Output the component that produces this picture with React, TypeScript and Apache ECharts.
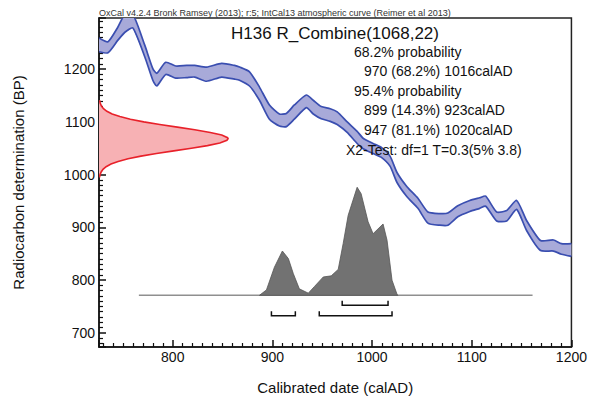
import React, { useEffect, useRef } from "react";
import * as echarts from "echarts";

// ---- calibration curve (IntCal13), calendar years AD vs BP ----
const curveYears = [726, 735, 745, 752, 760, 772, 780, 784, 793, 803, 814, 822, 834, 849, 862, 867, 877, 887, 897, 907, 914, 922, 934, 941, 949, 958, 965, 975, 985, 991, 1001, 1009, 1018, 1025, 1035, 1046, 1056, 1068, 1076, 1086, 1098, 1108, 1114, 1125, 1135, 1145, 1155, 1169, 1182, 1190, 1200];
const curveUpper = [1259, 1252, 1280, 1304, 1304, 1245, 1201, 1192, 1213, 1206, 1207, 1207, 1204, 1211, 1207, 1204, 1195, 1166, 1132, 1115, 1116, 1132, 1151, 1141, 1129, 1125, 1119, 1100, 1082, 1069, 1059, 1052, 1035, 1004, 977, 955, 929, 926, 927, 941, 951, 956, 959, 929, 932, 951, 913, 875, 876, 869, 869];
const curveLower = [1233, 1231, 1255, 1270, 1278, 1223, 1179, 1168, 1190, 1183, 1184, 1185, 1177, 1185, 1181, 1179, 1168, 1141, 1105, 1092, 1091, 1105, 1127, 1115, 1106, 1101, 1095, 1080, 1059, 1049, 1040, 1033, 1016, 985, 958, 936, 908, 904, 904, 920, 930, 936, 940, 912, 912, 934, 894, 856, 855, 849, 845];

// ---- radiocarbon measurement likelihood (BP vs relative density) ----
const likeBP = [1141, 1135, 1130, 1125, 1120, 1115, 1110, 1105, 1100, 1095, 1090, 1085, 1080, 1075, 1070, 1068, 1065, 1060, 1055, 1050, 1045, 1040, 1035, 1030, 1025, 1020, 1015, 1010, 1005, 1000, 995];
const likeDensity = [0.004, 0.01, 0.019, 0.035, 0.061, 0.102, 0.162, 0.243, 0.347, 0.471, 0.607, 0.742, 0.862, 0.951, 0.996, 1, 0.991, 0.936, 0.84, 0.716, 0.579, 0.445, 0.325, 0.225, 0.148, 0.093, 0.055, 0.031, 0.017, 0.008, 0.004];

// ---- calibrated (posterior) distribution, calAD vs relative probability ----
const postYears = [887, 894, 902, 910, 916, 921, 927, 936, 942, 951, 959, 966, 971, 976, 985, 989, 996, 1001, 1011, 1015, 1020, 1025, 1026];
const postProb = [0, 0.05, 0.26, 0.41, 0.34, 0.2, 0.06, 0.02, 0.08, 0.17, 0.18, 0.24, 0.48, 0.74, 1.0, 0.94, 0.68, 0.57, 0.66, 0.51, 0.14, 0.01, 0];
const postSpan = [766, 1161];

// ---- probability ranges ----
const range68 = [[970, 1016]];
const range95 = [[899, 923], [947, 1020]];

// ---- axes ----
const xRange = [726, 1200];
const yRange = [673, 1297];

// ---- texts ----
const headerText = "OxCal v4.2.4 Bronk Ramsey (2013); r:5; IntCal13 atmospheric curve (Reimer et al 2013)";
const sampleTitle = "H136 R_Combine(1068,22)";
const summaryLines = [
  "68.2% probability",
  "970 (68.2%) 1016calAD",
  "95.4% probability",
  "899 (14.3%) 923calAD",
  "947 (81.1%) 1020calAD",
  "X2-Test: df=1 T=0.3(5% 3.8)",
];
const xAxisTitle = "Calibrated date (calAD)";
const yAxisTitle = "Radiocarbon determination (BP)";

const FONT = '"Liberation Sans", Arial, Helvetica, sans-serif';
const POST_BASE = 771; // BP level of the posterior baseline
const POST_SCALE = 205; // BP height of the posterior peak

export default function App() {
  const ref = useRef<HTMLDivElement>(null);

  useEffect(() => {
    if (!ref.current) return;
    const chart = echarts.init(ref.current, undefined, { renderer: "svg" });

    const axisLineStyle = { color: "#111", width: 1.5 };
    const majorTick = { show: true, inside: true, length: 7, lineStyle: { color: "#111", width: 1.5 } };
    const minorTick = { show: true, splitNumber: 10, length: 4, lineStyle: { color: "#111", width: 1.2 } };

    const summaryX = [354, 364, 354, 364, 364, 346];
    const summaryY = [51.5, 71, 90.5, 110, 129.5, 150];

    const option: any = {
      animation: false,
      backgroundColor: "#fff",
      grid: {
        left: 99,
        top: 18,
        width: 473,
        height: 329,
        show: true,
        borderColor: "#222",
        borderWidth: 1.5,
        backgroundColor: "transparent",
      },
      xAxis: [
        {
          type: "value",
          min: xRange[0],
          max: xRange[1],
          position: "bottom",
          axisLine: { show: true, onZero: false, lineStyle: axisLineStyle },
          axisTick: majorTick,
          minorTick: minorTick,
          splitLine: { show: false },
          minorSplitLine: { show: false },
          axisLabel: {
            showMinLabel: false,
            fontSize: 14,
            color: "#111",
            fontFamily: FONT,
            margin: 3,
            formatter: (v: number) => String(v),
          },
          name: xAxisTitle,
          nameLocation: "middle",
          nameGap: 33,
          nameTextStyle: { fontSize: 15, color: "#111", fontFamily: FONT },
        },
        { type: "value", min: 0, max: 3.66, show: false },
      ],
      yAxis: [
        {
          type: "value",
          min: yRange[0],
          max: yRange[1],
          axisLine: { show: true, onZero: false, lineStyle: axisLineStyle },
          axisTick: majorTick,
          minorTick: minorTick,
          splitLine: { show: false },
          minorSplitLine: { show: false },
          axisLabel: {
            showMinLabel: false,
            showMaxLabel: false,
            fontSize: 14,
            color: "#111",
            fontFamily: FONT,
            margin: 4,
            formatter: (v: number) => String(v),
          },
          name: yAxisTitle,
          nameLocation: "middle",
          nameGap: 73,
          nameTextStyle: { fontSize: 15, color: "#111", fontFamily: FONT },
        },
      ],
      series: [
        {
          type: "custom",
          name: "curve",
          clip: true,
          xAxisIndex: 0,
          yAxisIndex: 0,
          data: [[curveYears[0], curveLower[0]]],
          renderItem: (params: any, api: any) => {
            if (params.dataIndex !== 0) return null;
            const up = curveYears.map((yr, i) => api.coord([yr, curveUpper[i]]));
            const lo = curveYears.map((yr, i) => api.coord([yr, curveLower[i]]));
            return {
              type: "group",
              children: [
                { type: "polygon", shape: { points: up.concat(lo.slice().reverse()) }, style: { fill: "#a8aad9", stroke: null } },
                { type: "polyline", shape: { points: up, smooth: 0.2 }, style: { stroke: "#3a4eb0", lineWidth: 1.7, fill: null } },
                { type: "polyline", shape: { points: lo, smooth: 0.2 }, style: { stroke: "#3a4eb0", lineWidth: 1.7, fill: null } },
              ],
            };
          },
        },
        {
          type: "custom",
          name: "likelihood",
          clip: true,
          xAxisIndex: 1,
          yAxisIndex: 0,
          data: [[0, likeBP[0]]],
          renderItem: (params: any, api: any) => {
            if (params.dataIndex !== 0) return null;
            const pts = likeBP.map((bp, i) => api.coord([likeDensity[i], bp]));
            const first = api.coord([0, likeBP[0]]);
            const last = api.coord([0, likeBP[likeBP.length - 1]]);
            return {
              type: "group",
              children: [
                { type: "polygon", shape: { points: [first, ...pts, last] }, style: { fill: "#f7b1b4", stroke: null } },
                { type: "polyline", shape: { points: pts }, style: { stroke: "#e8212a", lineWidth: 1.6, fill: null } },
              ],
            };
          },
        },
        {
          type: "custom",
          name: "posterior",
          clip: true,
          xAxisIndex: 0,
          yAxisIndex: 0,
          data: [[postYears[0], POST_BASE]],
          renderItem: (params: any, api: any) => {
            if (params.dataIndex !== 0) return null;
            const pts = postYears.map((yr, i) => api.coord([yr, POST_BASE + postProb[i] * POST_SCALE]));
            const b0 = api.coord([postSpan[0], POST_BASE]);
            const b1 = api.coord([postSpan[1], POST_BASE]);
            const y0 = b0[1];
            const children: any[] = [
              { type: "line", shape: { x1: b0[0], y1: y0, x2: b1[0], y2: y0 }, style: { stroke: "#8f8f8f", lineWidth: 1.5 } },
              { type: "polygon", shape: { points: pts }, style: { fill: "#727272", stroke: "#555", lineWidth: 0.8 } },
            ];
            const addBracket = (r: number[], off: number) => {
              const xa = api.coord([r[0], POST_BASE])[0];
              const xb = api.coord([r[1], POST_BASE])[0];
              children.push({
                type: "polyline",
                shape: { points: [[xa, y0 + off - 4.5], [xa, y0 + off], [xb, y0 + off], [xb, y0 + off - 4.5]] },
                style: { stroke: "#111", lineWidth: 1.5, fill: null },
              });
            };
            range68.forEach((r) => addBracket(r, 10));
            range95.forEach((r) => addBracket(r, 20.5));
            return { type: "group", children };
          },
        },
      ],
      graphic: [
        {
          type: "text",
          x: 99,
          y: 13,
          z: 20,
          style: { text: headerText, font: `9px ${FONT}`, fill: "#333", align: "left", verticalAlign: "middle" },
        },
        {
          type: "text",
          x: 335,
          y: 33,
          z: 20,
          style: { text: sampleTitle, font: `17px ${FONT}`, fill: "#111", align: "center", verticalAlign: "middle" },
        },
        ...summaryLines.map((t, i) => ({
          type: "text",
          x: summaryX[i],
          y: summaryY[i],
          z: 20,
          style: { text: t, font: `14px ${FONT}`, fill: "#111", align: "left", verticalAlign: "middle" },
        })),
      ],
    };

    chart.setOption(option);
    return () => chart.dispose();
  }, []);

  return (
    <div
      ref={ref}
      style={{ position: "fixed", left: 0, top: 0, width: 590, height: 401, background: "#fff" }}
    />
  );
}
